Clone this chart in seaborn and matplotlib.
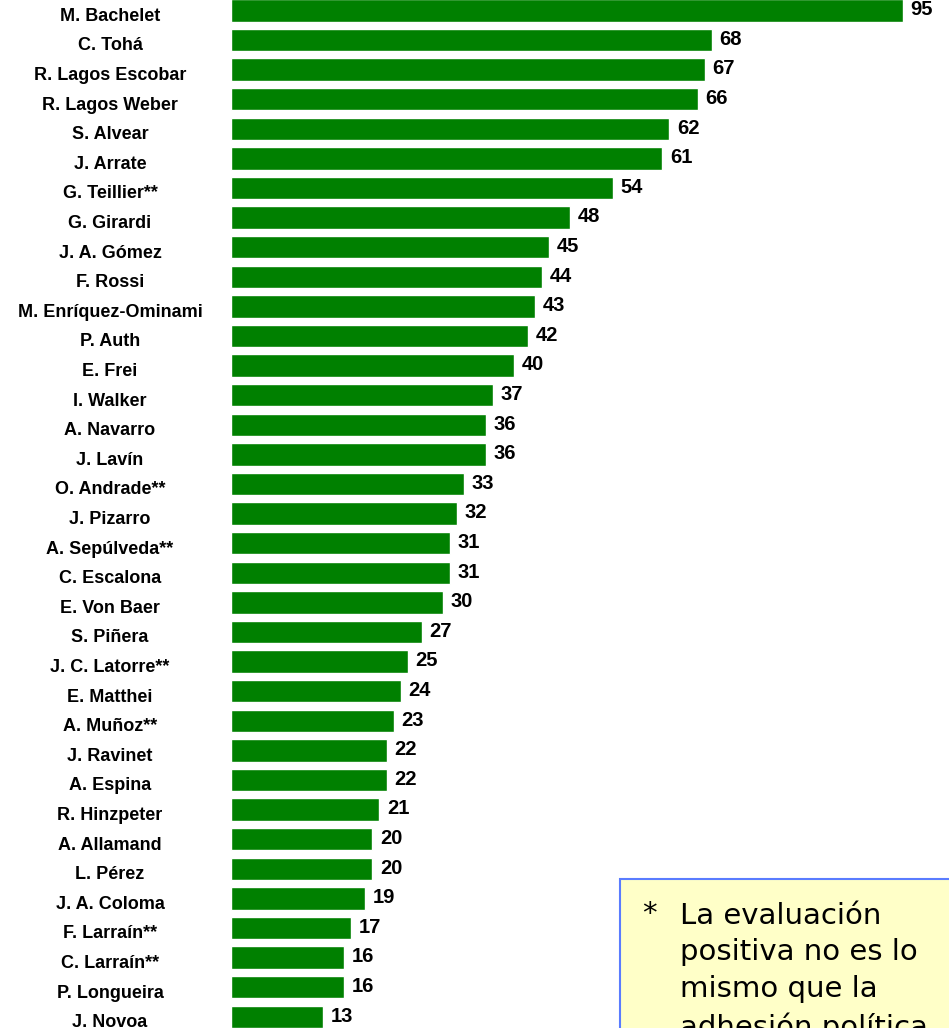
import matplotlib
matplotlib.use("Agg")
import matplotlib.pyplot as plt
from matplotlib.patches import Rectangle
import pandas as pd
import seaborn as sns

# Evaluación positiva de personajes políticos (%)
names = [
    "M. Bachelet", "C. Tohá", "R. Lagos Escobar", "R. Lagos Weber", "S. Alvear",
    "J. Arrate", "G. Teillier**", "G. Girardi", "J. A. Gómez", "F. Rossi",
    "M. Enríquez-Ominami", "P. Auth", "E. Frei", "I. Walker", "A. Navarro",
    "J. Lavín", "O. Andrade**", "J. Pizarro", "A. Sepúlveda**", "C. Escalona",
    "E. Von Baer", "S. Piñera", "J. C. Latorre**", "E. Matthei", "A. Muñoz**",
    "J. Ravinet", "A. Espina", "R. Hinzpeter", "A. Allamand", "L. Pérez",
    "J. A. Coloma", "F. Larraín**", "C. Larraín**", "P. Longueira", "J. Novoa",
]
values = [
    95, 68, 67, 66, 62,
    61, 54, 48, 45, 44,
    43, 42, 40, 37, 36,
    36, 33, 32, 31, 31,
    30, 27, 25, 24, 23,
    22, 22, 21, 20, 20,
    19, 17, 16, 16, 13,
]
note_lines = ["La evaluación", "positiva no es lo", "mismo que la", "adhesión política"]

sns.set_style("white")
plt.rcParams["font.family"] = ["Liberation Sans", "DejaVu Sans"]

W, H = 949, 1028
fig = plt.figure(figsize=(W / 100, H / 100), dpi=100)
ax = fig.add_axes([231 / W, 0, 1 - 231 / W, 1])

df = pd.DataFrame({"name": names, "value": values})
sns.barplot(data=df, x="value", y="name", orient="h", color="#008000",
            saturation=1, width=0.76, ax=ax)

ax.set_xlim(0, (W - 231) / 7.07)
ax.set_ylim(34.38, -0.35)
ax.set_axis_off()

# value labels
for i, v in enumerate(df["value"]):
    ax.annotate(str(v), xy=(v, i), xytext=(5.5, 0.5), textcoords="offset points",
                ha="left", va="center", fontsize=14.5, fontweight="bold", color="#000000")

# name labels, centered in the left margin
for i, n in enumerate(df["name"]):
    ax.annotate(n, xy=(110, i), xycoords=("figure pixels", "data"),
                xytext=(0, -4.3), textcoords="offset points",
                ha="center", va="center", fontsize=13, fontweight="bold", color="#000000")

# note box
fig.patches.append(Rectangle((620 / W, -0.02), 0.5, 1 - 879 / H + 0.02,
                             transform=fig.transFigure, facecolor="#FFFFC8",
                             edgecolor="#5A7CFF", linewidth=1.5, zorder=5))
fig.text(642 / W, 1 - 922 / H, "*", fontsize=21, family="DejaVu Sans",
         ha="left", va="baseline", color="#000000", zorder=6)
# multi-line text with va='baseline' anchors on the last line
fig.text(680 / W, 1 - (922 + 3 * 38) / H, "\n".join(note_lines), fontsize=21,
         family="DejaVu Sans", ha="left", va="baseline", linespacing=1.40,
         color="#000000", zorder=6)

fig.savefig("out.png", dpi=100)
